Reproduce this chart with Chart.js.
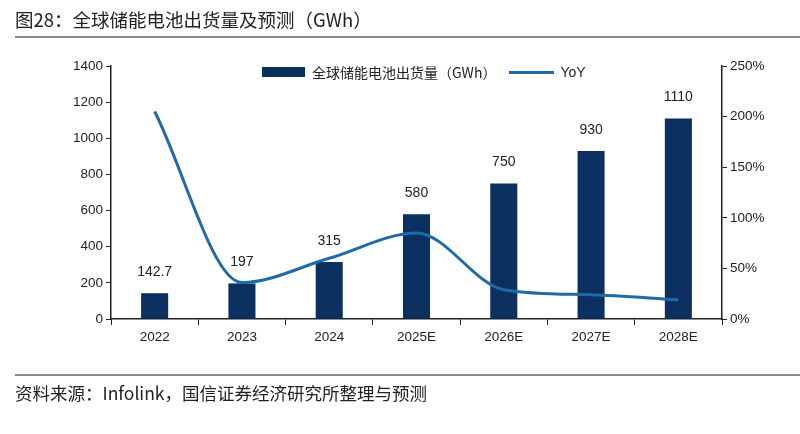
<!DOCTYPE html>
<html>
<head>
<meta charset="utf-8">
<script src="https://cdn.jsdelivr.net/npm/chart.js@4/dist/chart.umd.min.js"></script>
<style>
  html, body { margin:0; padding:0; background:#fff; }
  body { width:800px; height:434px; position:relative; overflow:hidden; font-family:"Noto Sans CJK SC","Liberation Sans",sans-serif; }
  #wrap { position:absolute; left:0; top:0; width:800px; height:434px; }
  #title { position:absolute; left:15px; top:6px; font-size:18.5px; color:#222; white-space:nowrap; }
  #tline { position:absolute; left:15px; top:36px; width:785px; height:2px; background:#8a8a8a; }
  #fline { position:absolute; left:15px; top:374px; width:785px; height:2px; background:#8a8a8a; }
  #source { position:absolute; left:15px; top:380px; font-size:17.5px; color:#222; white-space:nowrap; }
  #legend { position:absolute; left:262px; top:62px; height:20px; font-size:14px; color:#222; display:flex; align-items:center; white-space:nowrap; }
  .lbox { display:inline-block; width:43px; height:10px; background:#0b2f5f; margin-right:7px; }
  .lline { display:inline-block; width:45px; height:3px; background:#1f6aa8; margin-left:13px; margin-right:6px; }
</style>
</head>
<body>
<div id="wrap"><canvas id="c" width="800" height="434"></canvas></div>
<div id="title">图28：全球储能电池出货量及预测（GWh）</div>
<div id="tline"></div>
<div id="legend"><span class="lbox"></span><span>全球储能电池出货量（GWh）</span><span class="lline"></span><span style="font-family:'Liberation Sans',sans-serif">YoY</span></div>
<div id="fline"></div>
<div id="source">资料来源：Infolink，国信证券经济研究所整理与预测</div>
<script>
const categories = ["2022","2023","2024","2025E","2026E","2027E","2028E"];
const shipments = [142.7, 197, 315, 580, 750, 930, 1110];
const shipmentLabels = ["142.7","197","315","580","750","930","1110"];
const yoy = [205, 36, 60, 85, 29, 24, 19];
const leftTicks = [0,200,400,600,800,1000,1200,1400];
const rightTicks = [0,50,100,150,200,250];

const barLabels = {
  id: 'barLabels',
  afterDatasetsDraw(chart) {
    const meta = chart.getDatasetMeta(1);
    const ctx = chart.ctx;
    ctx.save();
    ctx.font = '14px "Liberation Sans", sans-serif';
    ctx.fillStyle = '#222';
    ctx.textAlign = 'center';
    ctx.textBaseline = 'middle';
    meta.data.forEach((bar, i) => {
      ctx.fillText(shipmentLabels[i], bar.x, bar.y - 21);
    });
    ctx.restore();
  }
};

const tickFont = { family: '"Liberation Sans", sans-serif', size: 13.5 };

new Chart(document.getElementById('c'), {
  data: {
    labels: categories,
    datasets: [
      {
        type: 'line',
        label: 'YoY',
        data: yoy,
        yAxisID: 'y1',
        borderColor: '#1f6aa8',
        borderWidth: 3,
        pointRadius: 0,
        cubicInterpolationMode: 'monotone',
        fill: false,
        order: 0
      },
      {
        type: 'bar',
        label: '全球储能电池出货量（GWh）',
        data: shipments,
        yAxisID: 'y',
        backgroundColor: '#0b2f5f',
        categoryPercentage: 1.0,
        barPercentage: 0.31,
        order: 1
      }
    ]
  },
  options: {
    responsive: false,
    animation: false,
    devicePixelRatio: 1,
    layout: { padding: { top: 66, left: 0, right: 0, bottom: 0 } },
    plugins: { legend: { display: false }, tooltip: { enabled: false } },
    scales: {
      x: {
        offset: true,
        grid: { display: true, drawOnChartArea: false, drawTicks: true, tickLength: 6, color: '#222', offset: true },
        border: { display: true, color: '#222', width: 1.5 },
        ticks: { color: '#222', font: tickFont, padding: 4, maxRotation: 0 },
        afterFit(s) { s.height = 115; }
      },
      y: {
        position: 'left',
        min: 0, max: 1400,
        afterBuildTicks(s) { s.ticks = leftTicks.map(v => ({ value: v })); },
        grid: { display: true, drawOnChartArea: false, drawTicks: true, tickLength: 5, color: '#222' },
        border: { display: true, color: '#222', width: 1.5 },
        ticks: { color: '#222', font: tickFont, padding: 3, callback: v => String(v) },
        afterFit(s) { s.width = 111; }
      },
      y1: {
        position: 'right',
        min: 0, max: 250,
        afterBuildTicks(s) { s.ticks = rightTicks.map(v => ({ value: v })); },
        grid: { display: true, drawOnChartArea: false, drawTicks: true, tickLength: 5, color: '#222' },
        border: { display: true, color: '#222', width: 1.5 },
        ticks: { color: '#222', font: tickFont, padding: 3, callback: v => v + '%' },
        afterFit(s) { s.width = 78; }
      }
    }
  },
  plugins: [barLabels]
});
</script>
</body>
</html>
